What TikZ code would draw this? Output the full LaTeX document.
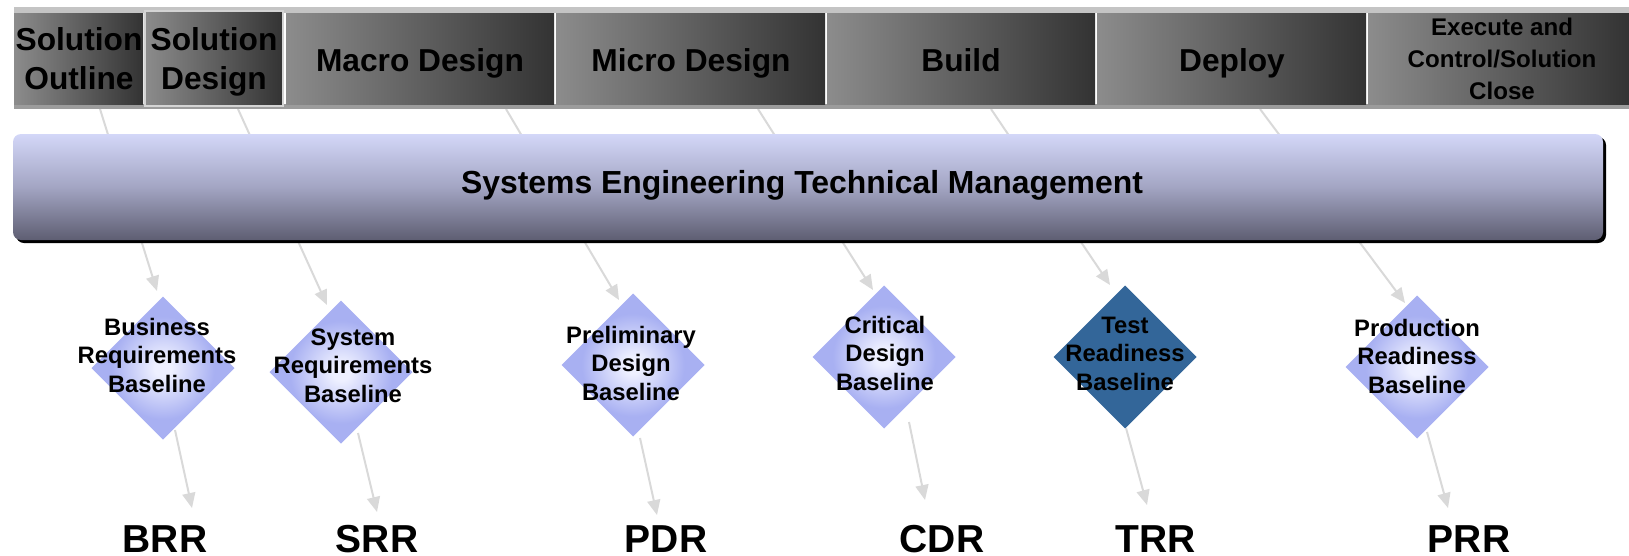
\documentclass[tikz,border=0pt]{standalone}
\usepackage{fontspec}
\setmainfont{Liberation Sans}
\usetikzlibrary{shapes.geometric,arrows.meta}

\definecolor{arrowgray}{HTML}{D9D9D9}
\definecolor{dmdout}{HTML}{A8B0F2}
\definecolor{dmdin}{HTML}{EEF0FF}
\definecolor{trrblue}{HTML}{336699}
\definecolor{boxl}{HTML}{8C8C8C}
\definecolor{boxr}{HTML}{333333}
\definecolor{barTop}{HTML}{D3D7F8}
\definecolor{barMid}{HTML}{A3A5C3}
\definecolor{barBot}{HTML}{5E5E72}
\definecolor{frameline}{HTML}{C4C4C4}
\definecolor{framebot}{HTML}{9C9C9C}
\definecolor{sdborder}{HTML}{D4D4D4}

\pgfdeclareradialshading{dmdshade}{\pgfpoint{0bp}{0bp}}{color(0bp)=(dmdin); color(3bp)=(dmdin); color(18bp)=(dmdout); color(50bp)=(dmdout)}

\tikzset{
  topbox/.style={rectangle, inner sep=0pt, outer sep=0pt, left color=boxl, right color=boxr, minimum height=91pt},
  toptext/.style={font=\fontsize{31.7}{39}\selectfont\bfseries, align=center, inner sep=0pt, anchor=base},
  exectext/.style={font=\fontsize{24.1}{32}\selectfont\bfseries, align=center, inner sep=0pt, anchor=base},
  setmbar/.style={rectangle, rounded corners=8pt, inner sep=0pt, outer sep=0pt, top color=barTop, bottom color=barBot, middle color=barMid},
  setmshadow/.style={rectangle, rounded corners=8pt, inner sep=0pt, outer sep=0pt, fill=black},
  setmtext/.style={font=\fontsize{31.9}{38}\selectfont\bfseries, inner sep=0pt, anchor=base},
  dmd/.style={diamond, minimum width=143pt, minimum height=143pt, inner sep=0pt, outer sep=0pt, shading=dmdshade},
  dmdblue/.style={diamond, minimum width=143pt, minimum height=143pt, inner sep=0pt, outer sep=0pt, fill=trrblue},
  dmdtext/.style={font=\fontsize{23.8}{28.5}\selectfont\bfseries, align=center, inner sep=0pt, anchor=base},
  revlabel/.style={font=\fontsize{39}{44}\selectfont\bfseries, inner sep=0pt, anchor=base},
  conn/.style={draw=arrowgray, line width=2pt, -{Triangle[width=13pt,length=15pt]}, fill=arrowgray},
}

\begin{document}
\begin{tikzpicture}[x=1pt,y=-1pt]
\useasboundingbox (0,0) rectangle (1629,555);

% upper connectors (behind the bars)
\coordinate (uBs) at (100,109);  \coordinate (uBt) at (157,291);
\coordinate (uSs) at (238,109);  \coordinate (uSt) at (327,305);
\coordinate (uPs) at (506,109);  \coordinate (uPt) at (619,300);
\coordinate (uCs) at (758,109);  \coordinate (uCt) at (873,290);
\coordinate (uTs) at (991,109);  \coordinate (uTt) at (1110,285);
\coordinate (uRs) at (1260,109); \coordinate (uRt) at (1405,303);
\draw[conn] (uBs) -- (uBt);
\draw[conn] (uSs) -- (uSt);
\draw[conn] (uPs) -- (uPt);
\draw[conn] (uCs) -- (uCt);
\draw[conn] (uTs) -- (uTt);
\draw[conn] (uRs) -- (uRt);

% top phase bar
\fill[framebot] (14,7) rectangle (1629,109);
\fill[frameline] (14,7) rectangle (1629,13);
\fill[white] (14,13) rectangle (1629,104);
\node[topbox, minimum width=129pt] (pOutline) at (78.5,58.5) {};
\node[topbox, minimum width=268pt] (pMacro) at (420,58.5) {};
\node[topbox, minimum width=269pt] (pMicro) at (690.5,58.5) {};
\node[topbox, minimum width=268pt] (pBuild) at (961,58.5) {};
\node[topbox, minimum width=269pt] (pDeploy) at (1231.5,58.5) {};
\node[topbox, minimum width=261pt] (pExec) at (1498.5,58.5) {};
\node[topbox, minimum width=138pt, minimum height=95pt, draw=sdborder, line width=2pt] (pDesign) at (214,58.5) {};

\node[toptext] (tOutline) at (79,89) {Solution\\Outline};
\node[toptext] (tDesign) at (214,89) {Solution\\Design};
\node[toptext] (tMacro) at (420,71) {Macro Design};
\node[toptext] (tMicro) at (691,71) {Micro Design};
\node[toptext] (tBuild) at (961,71) {Build};
\node[toptext] (tDeploy) at (1232,71) {Deploy};
\node[exectext] (tExec) at (1502,99) {Execute and\\Control/Solution\\Close};

% systems engineering technical management bar
\node[setmshadow, minimum width=1590pt, minimum height=106pt] (setmsh) at (811,190) {};
\node[setmbar, minimum width=1590pt, minimum height=106pt] (setm) at (808,187) {};
\node[setmtext] (setmt) at (802,193) {Systems Engineering Technical Management};

% baselines (diamonds)
\node[dmd] (dBRR) at (163,368) {};
\node[dmd] (dSRR) at (341,372) {};
\node[dmd] (dPDR) at (633,365) {};
\node[dmd] (dCDR) at (884,357) {};
\node[dmdblue] (dTRR) at (1125,357) {};
\node[dmd] (dPRR) at (1417,367) {};

\node[dmdtext] (xBRR) at (157,392) {Business\\Requirements\\Baseline};
\node[dmdtext] (xSRR) at (353,402) {System\\Requirements\\Baseline};
\node[dmdtext] (xPDR) at (631,400) {Preliminary\\Design\\Baseline};
\node[dmdtext] (xCDR) at (885,390) {Critical\\Design\\Baseline};
\node[dmdtext] (xTRR) at (1125,390) {Test\\Readiness\\Baseline};
\node[dmdtext] (xPRR) at (1417,393) {Production\\Readiness\\Baseline};

% lower connectors
\coordinate (lBs) at (175,430);  \coordinate (lBt) at (192,508);
\coordinate (lSs) at (358,433);  \coordinate (lSt) at (377,512);
\coordinate (lPs) at (640,438);  \coordinate (lPt) at (657,515);
\coordinate (lCs) at (909,422);  \coordinate (lCt) at (925,500);
\coordinate (lTs) at (1126,428); \coordinate (lTt) at (1147,505);
\coordinate (lRs) at (1427,432); \coordinate (lRt) at (1448,508);
\draw[conn] (lBs) -- (lBt);
\draw[conn] (lSs) -- (lSt);
\draw[conn] (lPs) -- (lPt);
\draw[conn] (lCs) -- (lCt);
\draw[conn] (lTs) -- (lTt);
\draw[conn] (lRs) -- (lRt);

% review labels
\node[revlabel] (rBRR) at (165,552) {BRR};
\node[revlabel] (rSRR) at (377,552) {SRR};
\node[revlabel] (rPDR) at (666,552) {PDR};
\node[revlabel] (rCDR) at (942,552) {CDR};
\node[revlabel] (rTRR) at (1156,552) {TRR};
\node[revlabel] (rPRR) at (1469,552) {PRR};
\end{tikzpicture}
\end{document}
